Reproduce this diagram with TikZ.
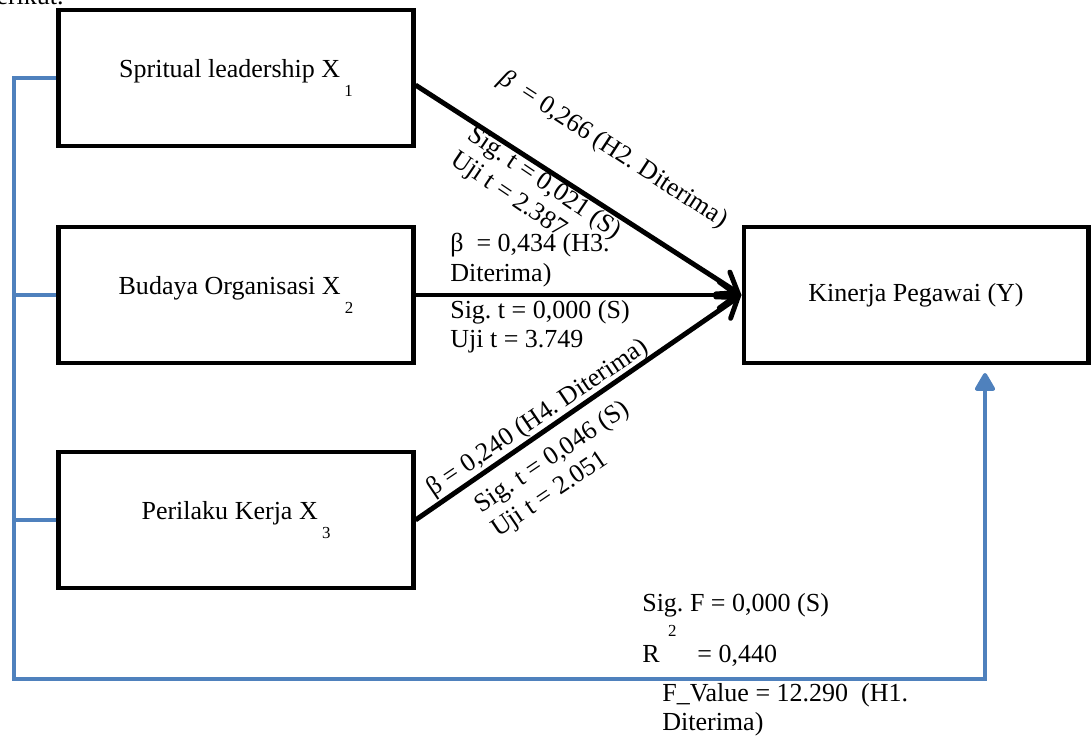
\documentclass[tikz,border=0pt]{standalone}
\usepackage{fontspec}
\setmainfont{Liberation Serif}
\usetikzlibrary{arrows.meta}
\definecolor{linkblue}{RGB}{79,129,189}
\newcommand{\lowsub}[1]{\hspace{3pt}\raisebox{-13.5pt}{\fontsize{12}{12}\selectfont #1}}
\frenchspacing

\begin{document}
\begin{tikzpicture}[x=0.025cm,y=-0.025cm,
  font=\fontsize{18.5}{21}\selectfont,
  var/.style={draw,line width=3.5pt,minimum width=8.85cm,minimum height=3.4cm},
  arr/.style={line width=3.5pt,-{Straight Barb[length=4.5mm,width=6.5mm,line cap=round]}},
  blueln/.style={line width=2.8pt,draw=linkblue},
  lbl/.style={inner sep=0pt,align=left}]
\useasboundingbox (0,0) rectangle (1091,744);
\node[anchor=base east,inner sep=0pt] (brk) at (64,4) {berikut.};
\node[var] (x1) at (236,78) {Spritual leadership X\lowsub{1}};
\node[var] (x2) at (236,295) {Budaya Organisasi X\lowsub{2}};
\node[var] (x3) at (236,520) {Perilaku Kerja X\lowsub{3}};
\node[var,minimum width=8.6cm] (y) at (916,295) {Kinerja Pegawai (Y)};
\draw[arr] ([yshift=-5pt]x1.east) -- (y.west);
\draw[arr] (x2.east) -- (y.west);
\draw[arr] (x3.east) -- (y.west);
\coordinate (corner) at (14,679);
\coordinate (tip) at (985,373);
\draw[blueln,-{Triangle[length=5mm,width=5.5mm,round]}] (x1.west) -| (corner) -| (tip);
\draw[blueln] (x2.west) -- (x2.west -| corner);
\draw[blueln] (x3.west) -- (x3.west -| corner);
\node[lbl,rotate=-33] (b1) at (613,150) {\textit{β}\ \ = 0,266 (H2. Diterima)};
\node[lbl,rotate=-34] (s1) at (536,196) {Sig. t = 0,021 (S)\\Uji t = 2.387};
\node[lbl,anchor=north west] (b2) at (450,233) {β\ \ = 0,434 (H3.\\Diterima)};
\node[lbl,anchor=north west] (s2) at (450,300) {Sig. t = 0,000 (S)\\Uji t = 3.749};
\node[lbl,rotate=34] (b3) at (538,418) {β = 0,240 (H4. Diterima)};
\node[lbl,rotate=34] (s3) at (561,470) {Sig. t = 0,046 (S)\\Uji t = 2.051};
\node[lbl,anchor=west] (sigf) at (642,605) {Sig. F = 0,000 (S)};
\node[lbl,anchor=base west] (r2) at (642,662) {R\hspace{6pt}\raisebox{18pt}{\fontsize{12}{12}\selectfont 2}\hspace{0.8em}= 0,440};
\node[lbl,anchor=north west] (fval) at (662,683) {F\_Value = 12.290\ \ (H1.\\Diterima)};
\end{tikzpicture}
\end{document}
